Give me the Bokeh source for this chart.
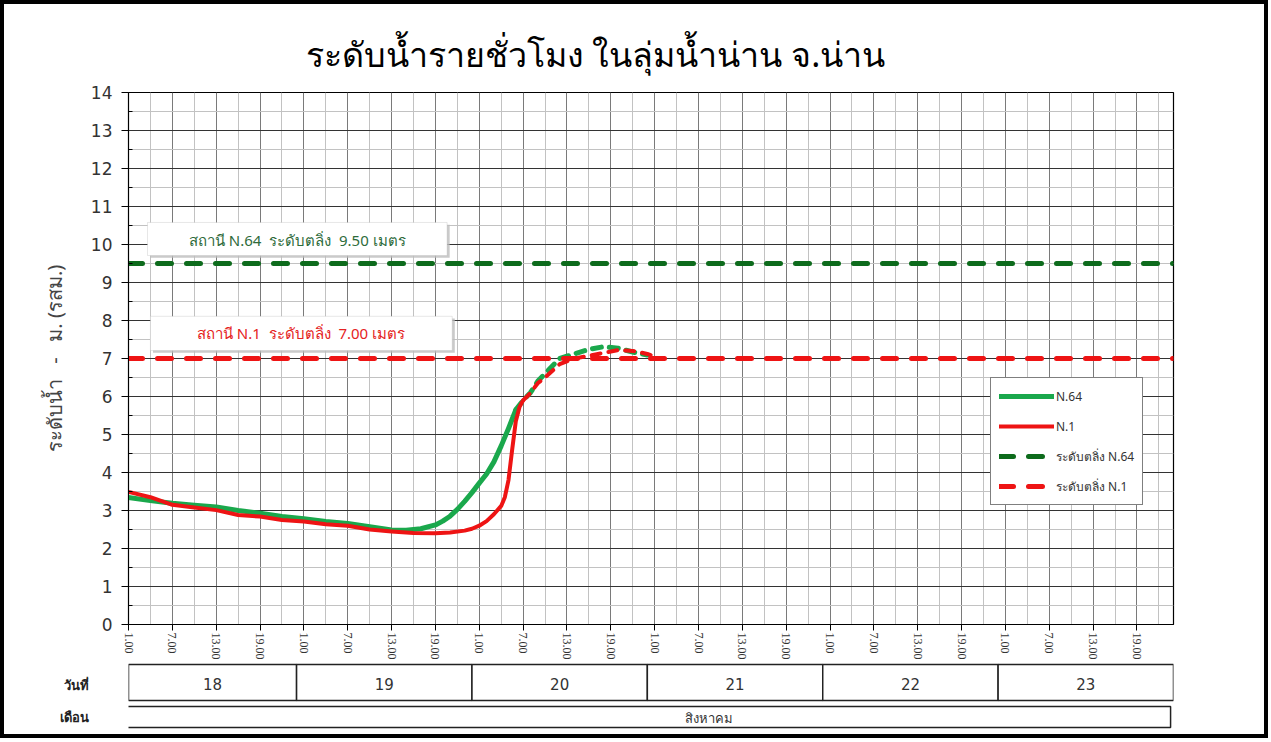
from bokeh.plotting import figure
from bokeh.models import FixedTicker, Range1d, Legend, LegendItem, Label, BoxAnnotation, LinearAxis
from bokeh.layouts import column
from bokeh.embed import file_html
from bokeh.resources import INLINE

# ---------------- data ----------------
title_text = "ระดับน้ำรายชั่วโมง ในลุ่มน้ำน่าน จ.น่าน"
y_label = "ระดับน้ำ\u00a0\u00a0\u00a0-\u00a0\u00a0\u00a0ม. (รสม.)"

# hours counted from 18 Aug 00:00
n64_obs_h = [1, 4, 7, 10, 13, 16, 19, 22, 25, 28, 31, 34, 37, 39, 41, 43, 44, 45, 46, 47, 48, 49, 50,
             51, 52, 53, 54]
n64_obs = [3.34, 3.26, 3.19, 3.14, 3.09, 3.00, 2.93, 2.84, 2.78, 2.71, 2.66, 2.57, 2.49, 2.48, 2.52, 2.62,
           2.72, 2.85, 3.03, 3.24, 3.47, 3.72, 3.96, 4.28, 4.70, 5.16, 5.65]
n64_fc_h = [54, 55, 56, 57, 58, 60, 62, 64, 66, 68, 70, 72]
n64_fc = [5.65, 5.90, 6.10, 6.40, 6.60, 7.00, 7.12, 7.24, 7.31, 7.27, 7.17, 7.09]

n1_obs_h = [1, 4, 7, 10, 13, 16, 19, 22, 25, 28, 31, 34, 37, 40, 43, 45, 47, 48, 49, 50, 51, 52, 52.5,
            53, 53.5, 54, 54.5, 55]
n1_obs = [3.49, 3.35, 3.15, 3.08, 3.01, 2.88, 2.84, 2.75, 2.71, 2.64, 2.60, 2.50, 2.45, 2.41, 2.40, 2.42,
          2.47, 2.52, 2.60, 2.72, 2.90, 3.12, 3.35, 3.80, 4.60, 5.35, 5.72, 5.90]
n1_fc_h = [55, 56, 57, 58, 60, 62, 64, 66, 68, 70, 72, 73]
n1_fc = [5.90, 6.09, 6.35, 6.50, 6.85, 7.00, 7.07, 7.15, 7.22, 7.20, 7.12, 7.05]

bank_n64 = 9.50
bank_n1 = 7.00
bank_n64_text = "สถานี N.64\u00a0\u00a0ระดับตลิ่ง\u00a0\u00a09.50 เมตร"
bank_n1_text = "สถานี N.1\u00a0\u00a0ระดับตลิ่ง\u00a0\u00a07.00 เมตร"

legend_labels = ["N.64", "N.1", "ระดับตลิ่ง N.64", "ระดับตลิ่ง N.1"]

x_start, x_end = 1, 144
hour_ticks = [1, 7, 13, 19, 25, 31, 37, 43, 49, 55, 61, 67, 73, 79, 85, 91, 97, 103, 109, 115, 121, 127, 133, 139]
hour_tick_labels = ["1.00", "7.00", "13.00", "19.00"] * 6
y_ticks = list(range(0, 15))

days = ["18", "19", "20", "21", "22", "23"]
day_edges = [1, 24, 48, 72, 96, 120, 144]
month = "สิงหาคม"
row_day = "วันที่"
row_month = "เดือน"

# ---------------- style ----------------
G = "#1aa84c"
R = "#ee1414"
DG = "#0d6b1c"
THAI = "Noto Sans"
W = 1260
BL, BR = 124, 91

p = figure(width=W, height=658, x_range=Range1d(x_start, x_end), y_range=Range1d(0, 14),
           output_backend="svg", toolbar_location=None,
           min_border_left=BL, min_border_right=BR, min_border_top=88, min_border_bottom=38)
p.background_fill_color = "white"
p.border_fill_color = "white"
p.outline_line_color = "black"
p.outline_line_width = 1.2

p.title.text = title_text
p.title.text_font = THAI
p.title.text_font_size = "34px"
p.title.text_font_style = "normal"
p.title.text_color = "black"
p.title.align = "left"
p.title.offset = 177
p.title.standoff = 31

xa = p.xaxis[0]
xa.ticker = FixedTicker(ticks=hour_ticks, minor_ticks=[t + 3 for t in hour_ticks])
xa.major_label_overrides = {t: l for t, l in zip(hour_ticks, hour_tick_labels)}
xa.major_label_orientation = "vertical"
xa.major_label_text_font = "Liberation Serif"
xa.major_label_text_font_size = "12px"
xa.major_label_text_color = "#333333"
xa.major_label_standoff = 2
xa.major_tick_out = 6
xa.major_tick_in = 0
xa.minor_tick_out = 0
xa.minor_tick_in = 0
xa.axis_line_color = "black"

ya = p.yaxis[0]
ya.ticker = FixedTicker(ticks=y_ticks, minor_ticks=[t + 0.5 for t in y_ticks[:-1]])
ya.major_label_text_font = "DejaVu Sans"
ya.major_label_text_font_size = "17px"
ya.major_label_text_color = "#333333"
ya.major_label_standoff = 9
ya.major_tick_out = 7
ya.major_tick_in = 0
ya.minor_tick_out = 0
ya.minor_tick_in = 4
ya.axis_line_color = "black"
ya.axis_label = y_label
ya.axis_label_text_font = THAI
ya.axis_label_text_font_size = "20px"
ya.axis_label_text_font_style = "normal"
ya.axis_label_text_color = "#444444"
ya.axis_label_standoff = 20

p.xgrid.grid_line_color = "#7a7a7a"
p.xgrid.minor_grid_line_color = "#c2c2c2"
p.ygrid.grid_line_color = "#333333"
p.ygrid.minor_grid_line_color = "#c2c2c2"

# annotation boxes for bank levels
for (l, r, b, t) in [(3.6, 44.6, 9.71, 10.58), (4.0, 45.3, 7.21, 8.11)]:
    p.add_layout(BoxAnnotation(left=l + 0.35, right=r + 0.35, bottom=b - 0.06, top=t - 0.06,
                               fill_color="#bdbdbd", fill_alpha=0.8, line_color=None))
    p.add_layout(BoxAnnotation(left=l, right=r, bottom=b, top=t, fill_color="white", fill_alpha=1,
                               line_color="#b0b0b0", line_width=1))
p.add_layout(Label(x=24.1, y=10.13, text=bank_n64_text, text_align="center", text_baseline="middle",
                   text_font=THAI, text_font_size="15px", text_color="#2e6b3b"))
p.add_layout(Label(x=24.6, y=7.66, text=bank_n1_text, text_align="center", text_baseline="middle",
                   text_font=THAI, text_font_size="15px", text_color="#e52222"))

r64 = p.line(n64_obs_h, n64_obs, line_color=G, line_width=5, line_cap="round", line_join="round")
p.line(n64_fc_h, n64_fc, line_color=G, line_width=5, line_dash="9 8", line_cap="round")
r1 = p.line(n1_obs_h, n1_obs, line_color=R, line_width=4, line_cap="round", line_join="round")
p.line(n1_fc_h, n1_fc, line_color=R, line_width=4, line_dash="9 8", line_cap="round")

rb64 = p.line([x_start, x_end], [bank_n64, bank_n64], line_color=DG, line_width=5, line_dash="14 15",
              line_cap="round")
rb1 = p.line([x_start, x_end], [bank_n1, bank_n1], line_color=R, line_width=5, line_dash="14 15",
             line_cap="round")

legend = Legend(items=[LegendItem(label=legend_labels[0], renderers=[r64]),
                       LegendItem(label=legend_labels[1], renderers=[r1]),
                       LegendItem(label=legend_labels[2], renderers=[rb64]),
                       LegendItem(label=legend_labels[3], renderers=[rb1])],
                location=(862, 119), margin=0, padding=8, spacing=10,
                glyph_width=55, glyph_height=20, label_standoff=2,
                label_text_font=THAI, label_text_font_size="12px", label_text_color="#333333",
                border_line_color="black", border_line_width=1.2, background_fill_color="white",
                background_fill_alpha=1)
p.add_layout(legend)

# ---------------- date table ----------------
t = figure(width=W, height=72, x_range=p.x_range, y_range=Range1d(72, 0),
           output_backend="svg", toolbar_location=None, x_axis_type=None, y_axis_type=None,
           min_border_left=BL, min_border_right=BR, min_border_top=0, min_border_bottom=0)
t.outline_line_color = None
t.xgrid.visible = False
t.ygrid.visible = False
t.background_fill_color = "white"
t.border_fill_color = "white"

row_axis = LinearAxis(ticker=FixedTicker(ticks=[22, 54]),
                      major_label_overrides={22: row_day, 54: row_month},
                      axis_line_color=None, major_tick_line_color=None, minor_tick_line_color=None,
                      major_tick_in=0, major_tick_out=0, minor_tick_in=0, minor_tick_out=0,
                      major_label_standoff=40, major_label_text_font=THAI,
                      major_label_text_font_size="13px", major_label_text_font_style="bold",
                      major_label_text_color="#222222")
t.add_layout(row_axis, "left")

t.quad(left=day_edges[:-1], right=day_edges[1:], top=2, bottom=38, fill_color="white",
       line_color="#222222", line_width=1.5)
t.text(x=[(a + b) / 2 for a, b in zip(day_edges[:-1], day_edges[1:])], y=[21] * len(days), text=days,
       text_align="center", text_baseline="middle", text_font_size="15px", text_color="#333333",
       text_font={"value": "DejaVu Sans"})
t.quad(left=[0.75], right=[143.6], top=[44], bottom=[65], fill_color="white", line_color="#222222",
       line_width=1.5)
t.add_layout(Label(x=80.4, y=55, text=month, text_align="center", text_baseline="middle",
                   text_font=THAI, text_font_size="13px", text_color="#333333"))

layout = column(p, t, spacing=0, styles={"border": "4px solid black", "background-color": "white"})

open("out.html", "w").write(file_html(layout, INLINE))
